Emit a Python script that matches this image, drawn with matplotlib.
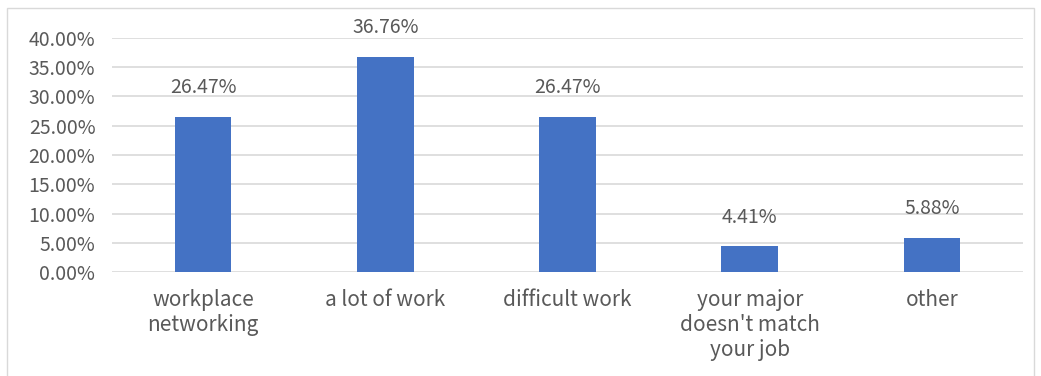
import matplotlib
matplotlib.use('Agg')
import matplotlib.pyplot as plt
from matplotlib.patches import Rectangle

plt.rcParams['font.family'] = ['Noto Sans CJK SC', 'DejaVu Sans']

categories = ["workplace\nnetworking", "a lot of work", "difficult work",
              "your major\ndoesn't match\nyour job", "other"]
values = [26.47, 36.76, 26.47, 4.41, 5.88]
yticks = [0, 5, 10, 15, 20, 25, 30, 35, 40]

text_color = '#595959'
bar_color = '#4472C4'
grid_color = '#D9D9D9'

fig = plt.figure(figsize=(10.41, 3.76), dpi=100)
# 外框
fig.patches.append(Rectangle((7 / 1041, -0.01), 1027 / 1041, 1 - 8 / 376 + 0.01,
                             transform=fig.transFigure, fill=False,
                             edgecolor='#D9D9D9', linewidth=1))

ax = fig.add_axes([112 / 1041, 1 - 272 / 376, 911 / 1041, 234 / 376])
x = range(len(categories))
ax.bar(x, values, width=0.31, color=bar_color, zorder=2)

for xi, v in zip(x, values):
    ax.annotate(f"{v:.2f}%", (xi, v), xytext=(0, 21), textcoords='offset points',
                ha='center', va='center', fontsize=14, color=text_color,
                fontweight='light', zorder=3)

ax.set_xlim(-0.5, len(categories) - 0.5)
ax.set_ylim(0, 40)
ax.set_yticks(yticks)
ax.set_yticklabels([f"{t:.2f}%" for t in yticks], fontsize=14, color=text_color,
                   fontweight='light')
ax.set_xticks(list(x))
ax.set_xticklabels(categories, fontsize=15, color=text_color, linespacing=1.2,
                   va='top', fontweight='light')

ax.yaxis.grid(True, color=grid_color, linewidth=1.2, zorder=0)
ax.tick_params(axis='both', length=0)
ax.tick_params(axis='y', pad=12)
ax.tick_params(axis='x', pad=12)
for s in ax.spines.values():
    s.set_visible(False)

plt.savefig('out.png', dpi=100)
